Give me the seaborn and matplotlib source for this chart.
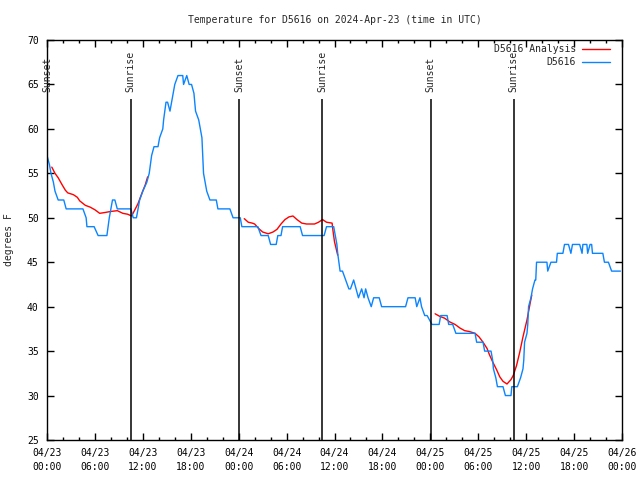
import pandas as pd
import matplotlib
matplotlib.use("Agg")
import matplotlib.pyplot as plt
import matplotlib.dates as mdates
from matplotlib.lines import Line2D
import seaborn as sns

sns.set_style("ticks")
plt.rcParams['font.family'] = ['DejaVu Sans Mono']
plt.rcParams['font.size'] = 7

start = pd.Timestamp("2024-04-23 00:00")

# observed temperature (hours after start, deg F)
obs_hours = [0.0, 0.3, 0.5, 0.8, 1.0, 1.4, 2.1, 2.4, 4.5, 4.9, 5.0, 5.9, 6.4, 7.5, 7.8, 8.0, 8.2, 8.5, 8.8,
             10.5, 10.8, 11.2, 11.6, 12.0, 12.5, 12.8, 13.1, 13.4, 13.9, 14.1, 14.5, 14.6, 14.9, 15.1, 15.4,
             15.8, 16.0, 16.4, 17.0, 17.1, 17.5, 17.8, 18.1, 18.4, 18.6, 19.0, 19.4, 19.6, 20.0, 20.4, 21.2,
             21.4, 22.9, 23.3, 24.2, 24.4, 26.4, 26.8, 27.7, 28.0, 28.7, 28.9, 29.3, 29.5, 31.7, 32.0, 34.7,
             35.0, 35.9, 36.3, 36.4, 36.7, 37.0, 37.4, 37.8, 38.0, 38.4, 38.7, 39.0, 39.4, 39.7, 39.9, 40.2,
             40.6, 40.9, 41.6, 41.9, 44.9, 45.2, 46.1, 46.3, 46.7, 46.9, 47.3, 47.6, 48.2, 49.1, 49.3, 50.1,
             50.3, 50.8, 51.2, 53.6, 53.8, 54.6, 54.8, 55.2, 55.6, 55.8, 55.9, 56.2, 56.4, 57.1, 57.4, 58.1,
             58.2, 58.9, 59.3, 59.6, 59.7, 59.8, 60.1, 60.2, 60.3, 60.6, 60.8, 61.1, 61.2, 61.3, 62.6, 62.7,
             63.1, 63.8, 63.9, 64.6, 64.8, 65.3, 65.6, 65.8, 66.7, 67.0, 67.1, 67.6, 67.7, 68.0, 68.2, 68.3,
             69.6, 69.8, 70.3, 70.7, 71.8]
obs_temp = [57, 56, 55, 54, 53, 52, 52, 51, 51, 50, 49, 49, 48, 48, 50, 51, 52, 52, 51,
            51, 50, 50, 52, 53, 54, 55, 57, 58, 58, 59, 60, 61, 63, 63, 62,
            64, 65, 66, 66, 65, 66, 65, 65, 64, 62, 61, 59, 55, 53, 52, 52,
            51, 51, 50, 50, 49, 49, 48, 48, 47, 47, 48, 48, 49, 49, 48, 48,
            49, 49, 47, 46, 44, 44, 43, 42, 42, 43, 42, 41, 42, 41, 42, 41,
            40, 41, 41, 40, 40, 41, 41, 40, 41, 40, 39, 39, 38, 38, 39, 39,
            38, 38, 37, 37, 36, 36, 35, 35, 35, 34, 33, 32, 31, 31, 30, 30,
            31, 31, 32, 33, 34, 36, 37, 38, 40, 41, 42, 43, 43, 45, 45, 44,
            45, 45, 46, 46, 47, 47, 46, 47, 47, 46, 47, 47, 46, 47, 47, 46,
            46, 45, 45, 44, 44]

# analysis, three overnight pieces
ana1_hours = [0.6, 1.0, 1.4, 1.9, 2.3, 2.6, 3.3, 3.8, 4.1, 4.8, 5.4, 6.0, 6.6, 7.3, 7.9, 8.8, 9.5, 10.1,
              10.6, 11.0, 11.4, 11.9, 12.3, 12.6]
ana1_temp = [55.7, 55.0, 54.5, 53.7, 53.1, 52.8, 52.6, 52.3, 51.9, 51.4, 51.2, 50.9, 50.5, 50.6, 50.7,
             50.8, 50.5, 50.4, 50.2, 50.9, 51.6, 52.8, 53.7, 54.6]
ana2_hours = [24.7, 25.2, 25.7, 26.0, 26.5, 27.0, 27.7, 28.3, 28.8, 29.3, 29.8, 30.3, 30.8, 31.3, 31.9,
              32.5, 33.5, 34.0, 34.5, 35.0, 35.7, 35.8, 36.0, 36.4]
ana2_temp = [49.9, 49.5, 49.4, 49.3, 48.8, 48.4, 48.2, 48.4, 48.7, 49.3, 49.8, 50.1, 50.2, 49.8, 49.4,
             49.3, 49.3, 49.5, 49.8, 49.5, 49.4, 48.6, 47.3, 45.8]
ana3_hours = [48.6, 49.2, 49.8, 50.4, 51.1, 51.7, 52.3, 52.9, 53.6, 54.1, 54.6, 55.1, 55.4, 55.8, 56.3,
              56.7, 57.1, 57.6, 58.1, 58.4, 58.8, 59.2, 59.6, 60.1, 60.5, 60.7]
ana3_temp = [39.2, 38.9, 38.7, 38.3, 38.0, 37.6, 37.3, 37.2, 37.0, 36.6, 36.0, 35.3, 34.6, 33.8, 32.9,
             32.1, 31.6, 31.3, 31.8, 32.3, 33.4, 34.9, 36.6, 38.5, 40.4, 41.3]

sunset_hours = [0.0, 24.03, 48.06]
sunrise_hours = [10.5, 34.42, 58.45]

obs = pd.DataFrame({'time': start + pd.to_timedelta(obs_hours, unit='h'), 'temp': obs_temp})
parts = []
for k, (h, t) in enumerate([(ana1_hours, ana1_temp), (ana2_hours, ana2_temp), (ana3_hours, ana3_temp)]):
    parts.append(pd.DataFrame({'time': start + pd.to_timedelta(h, unit='h'), 'temp': t, 'seg': k}))
ana = pd.concat(parts, ignore_index=True)

red = '#ff0000'
blue = '#0a84ff'

fig, ax = plt.subplots(figsize=(6.4, 4.8), dpi=100)
fig.subplots_adjust(left=47/640, right=622/640, top=1-40/480, bottom=1-440/480)

sns.lineplot(data=ana, x='time', y='temp', units='seg', estimator=None, color=red, lw=1, ax=ax)
sns.lineplot(data=obs, x='time', y='temp', estimator=None, color=blue, lw=1, ax=ax)

# sunrise / sunset markers
for name, hours in [('Sunset', sunset_hours), ('Sunrise', sunrise_hours)]:
    for h in hours:
        t = start + pd.Timedelta(hours=h)
        ax.vlines(t, 25, 63.4, color='black', lw=1.1)
        ax.text(t, 64.1, name, rotation=90, ha='center', va='bottom', fontsize=7)

ax.set_xlim(start, start + pd.Timedelta(hours=72))
ax.set_ylim(25, 70)
ax.set_yticks(range(25, 71, 5))
ax.xaxis.set_major_locator(mdates.HourLocator(byhour=[0, 6, 12, 18]))
ax.xaxis.set_minor_locator(mdates.HourLocator(byhour=range(0, 24, 2)))
ax.xaxis.set_major_formatter(mdates.DateFormatter('%m/%d\n%H:%M'))
ax.tick_params(which='both', direction='in', top=True, right=True, colors='black', width=1)
ax.tick_params(which='major', length=5, pad=6)
ax.tick_params(which='minor', length=2.5)
plt.setp(ax.get_xticklabels(), linespacing=1.5)
for s in ax.spines.values():
    s.set_color('black')
    s.set_linewidth(1)

ax.set_xlabel('')
ax.set_ylabel('degrees F', labelpad=9)
ax.set_title('Temperature for D5616 on 2024-Apr-23 (time in UTC)', pad=12, fontsize=7)

handles = [Line2D([], [], color=red, lw=1), Line2D([], [], color=blue, lw=1)]
ax.legend(handles, ['D5616 Analysis', 'D5616'], loc='upper right',
          bbox_to_anchor=(1 - 12/575, 1 - 4/400), frameon=False, markerfirst=False,
          handlelength=2.9, handletextpad=0.6, labelspacing=0.35, borderpad=0,
          borderaxespad=0, fontsize=7)

fig.savefig('out.png', dpi=100)
